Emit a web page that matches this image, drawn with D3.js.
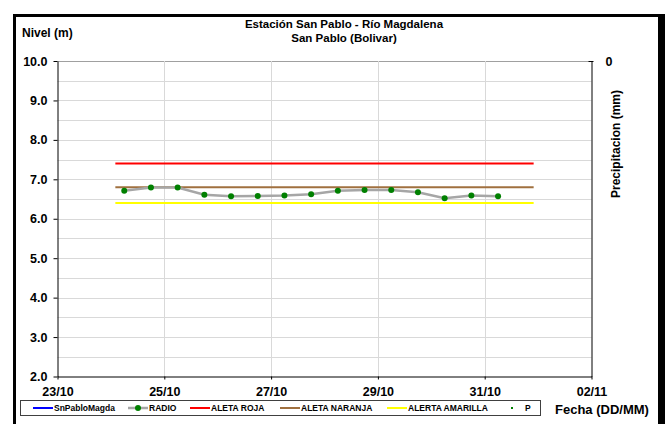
<!DOCTYPE html>
<html>
<head>
<meta charset="utf-8">
<script src="https://cdn.jsdelivr.net/npm/d3@7"></script>
<style>
  body { margin: 0; background: #fff; }
  svg text { font-family: "Liberation Sans", Arial, sans-serif; font-weight: bold; fill: #000; }
</style>
</head>
<body>
<div id="chart"></div>
<script>
// datos
const fechas = ["24/10 06", "24/10 18", "25/10 06", "25/10 18", "26/10 06", "26/10 18", "27/10 06", "27/10 18",
                "28/10 06", "28/10 18", "29/10 06", "29/10 18", "30/10 06", "30/10 18", "31/10 06"];
const radio = [6.71, 6.79, 6.79, 6.61, 6.57, 6.58, 6.59, 6.62, 6.71, 6.73, 6.73, 6.67, 6.52, 6.59, 6.57];

const alertaFechas = ["24/10 02", "31/10 22"];
const aletaRoja = 7.4;
const aletaNaranja = 6.8;
const alertaAmarilla = 6.4;

const yTicks = [2, 3, 4, 5, 6, 7, 8, 9, 10];
const xTicks = ["23/10 00", "25/10 00", "27/10 00", "29/10 00", "31/10 00", "02/11 00"];

const leyenda = [
    { name: "SnPabloMagda", color: "#0000ff", tipo: "line" },
    { name: "RADIO", color: "#a6a6a6", tipo: "marker" },
    { name: "ALETA ROJA", color: "#ff0000", tipo: "line" },
    { name: "ALETA NARANJA", color: "#a0703f", tipo: "line" },
    { name: "ALERTA AMARILLA", color: "#ffff00", tipo: "line" },
    { name: "P", color: "#008000", tipo: "dot" }
];
const leyendaX = [33, 128, 190, 280, 387, 510];

const width = 665;
const height = 424;

const parse = d3.timeParse("%d/%m %H %Y");
const toDate = s => parse(s + " 2019");

const x = d3.scaleTime()
    .domain([toDate("23/10 00"), toDate("02/11 00")])
    .range([57.5, 591.5]);

const y = d3.scaleLinear()
    .domain([2, 10])
    .range([376.5, 61]);

const svg = d3.select('#chart')
    .append('svg')
    .attr('width', width)
    .attr('height', height);

// marco negro
svg.append('rect').attr('x', 13).attr('y', 14).attr('width', 3).attr('height', height - 14).attr('fill', '#000');
svg.append('rect').attr('x', 13).attr('y', 14).attr('width', width - 13).attr('height', 3).attr('fill', '#000');
svg.append('rect').attr('x', 658).attr('y', 14).attr('width', 7).attr('height', height - 14).attr('fill', '#000');

// grilla
const gridY = d3.range(2.5, 10.01, 0.5);
svg.append('g')
    .selectAll('line')
    .data(gridY)
    .enter()
    .append('line')
    .attr('x1', x.range()[0])
    .attr('x2', x.range()[1])
    .attr('y1', d => Math.round(y(d)) + 0.5)
    .attr('y2', d => Math.round(y(d)) + 0.5)
    .attr('stroke', d => d === 10 ? '#a0a0a0' : '#d9d9d9')
    .attr('stroke-width', 1);

svg.append('g')
    .selectAll('line')
    .data(xTicks.slice(1, -1).map(toDate))
    .enter()
    .append('line')
    .attr('x1', d => Math.round(x(d)) + 0.5)
    .attr('x2', d => Math.round(x(d)) + 0.5)
    .attr('y1', y(10))
    .attr('y2', y(2))
    .attr('stroke', '#d9d9d9')
    .attr('stroke-width', 1);

// ejes
const yAxis = svg.append('g')
    .attr('transform', 'translate(' + x.range()[0] + ',0)')
    .call(d3.axisLeft(y).tickValues(yTicks).tickFormat(d3.format('.1f')).tickSize(4).tickPadding(6).tickSizeOuter(0));

const xAxis = svg.append('g')
    .attr('transform', 'translate(0,' + y(2) + ')')
    .call(d3.axisBottom(x).tickValues(xTicks.map(toDate)).tickFormat(d3.timeFormat('%d/%m')).tickSize(3).tickPadding(8).tickSizeOuter(0));

const yP = d3.scaleLinear().domain([0, 1]).range([61, 376.5]);
const y2Axis = svg.append('g')
    .attr('transform', 'translate(' + x.range()[1] + ',0)')
    .call(d3.axisRight(yP).tickValues([0]).tickFormat(d3.format('d')).tickSize(2).tickPadding(12).tickSizeOuter(0));

[yAxis, xAxis, y2Axis].forEach(g => {
    g.selectAll('text').attr('font-size', 12.5).style('font-family', '"Liberation Sans", Arial, sans-serif').style('font-weight', 'bold');
    g.selectAll('line').attr('stroke', '#000');
    g.select('.domain').attr('stroke', '#000');
});
y2Axis.selectAll('.tick line').attr('x1', -3);

// lineas de alerta
const alertas = [
    { v: aletaRoja, color: '#ff0000' },
    { v: aletaNaranja, color: '#a0703f' },
    { v: alertaAmarilla, color: '#ffff00' }
];
svg.append('g')
    .selectAll('line')
    .data(alertas)
    .enter()
    .append('line')
    .attr('x1', x(toDate(alertaFechas[0])))
    .attr('x2', x(toDate(alertaFechas[1])))
    .attr('y1', d => y(d.v))
    .attr('y2', d => y(d.v))
    .attr('stroke', d => d.color)
    .attr('stroke-width', 2);

// serie RADIO
const puntos = fechas.map((f, i) => ({ t: toDate(f), v: radio[i] }));
const linea = d3.line().x(d => x(d.t)).y(d => y(d.v));
svg.append('path')
    .datum(puntos)
    .attr('d', linea)
    .attr('fill', 'none')
    .attr('stroke', '#a6a6a6')
    .attr('stroke-width', 2.5);

svg.append('g')
    .selectAll('circle')
    .data(puntos)
    .enter()
    .append('circle')
    .attr('cx', d => x(d.t))
    .attr('cy', d => y(d.v))
    .attr('r', 3)
    .attr('fill', '#008000');

// titulos
svg.append('text').attr('x', 344).attr('y', 27.5).attr('text-anchor', 'middle').attr('font-size', 11.5)
    .text('Estación San Pablo - Río Magdalena');
svg.append('text').attr('x', 344).attr('y', 41.5).attr('text-anchor', 'middle').attr('font-size', 11.5)
    .text('San Pablo (Bolivar)');
svg.append('text').attr('x', 22).attr('y', 37).attr('font-size', 12).text('Nivel (m)');
svg.append('text').attr('transform', 'translate(620,144) rotate(-90)').attr('text-anchor', 'middle')
    .attr('font-size', 12).text('Precipitacion (mm)');
svg.append('text').attr('x', 555).attr('y', 414).attr('font-size', 13).text('Fecha (DD/MM)');

// leyenda
svg.append('rect').attr('x', 20.5).attr('y', 400.5).attr('width', 520).attr('height', 15)
    .attr('fill', '#fff').attr('stroke', '#404040').attr('stroke-width', 1);

const items = svg.append('g')
    .selectAll('g')
    .data(leyenda)
    .enter()
    .append('g')
    .attr('transform', (d, i) => 'translate(' + leyendaX[i] + ',408)');

items.filter(d => d.tipo !== 'dot')
    .append('line')
    .attr('x1', 0).attr('x2', 20).attr('y1', 0).attr('y2', 0)
    .attr('stroke', d => d.color)
    .attr('stroke-width', d => d.tipo === 'marker' ? 2.5 : 2);
items.filter(d => d.tipo === 'marker')
    .append('circle').attr('cx', 10).attr('cy', 0).attr('r', 3).attr('fill', '#008000');
items.filter(d => d.tipo === 'dot')
    .append('rect').attr('x', 1).attr('y', -1).attr('width', 2).attr('height', 2).attr('fill', d => d.color);
items.append('text')
    .attr('x', d => d.tipo === 'dot' ? 15 : 21)
    .attr('y', 3)
    .attr('font-size', 8.5)
    .text(d => d.name);
</script>
</body>
</html>
